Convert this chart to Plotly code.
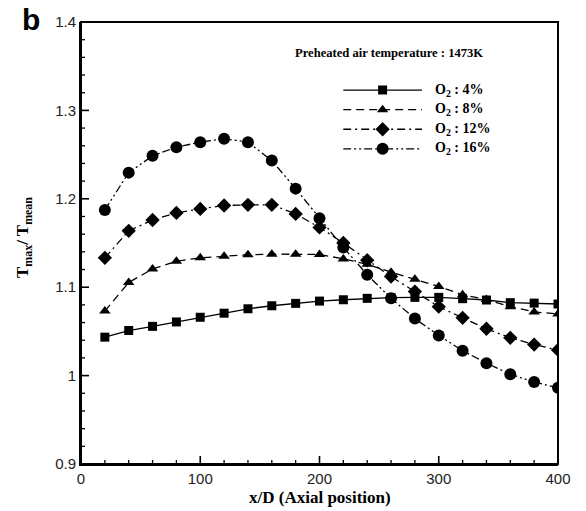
import plotly.graph_objects as go

x_pos = [20, 40, 60, 80, 100, 120, 140, 160, 180, 200, 220, 240, 260, 280, 300, 320, 340, 360, 380, 400]
o2_4 = [1.0435, 1.051, 1.0557, 1.0607, 1.066, 1.0706, 1.0756, 1.079, 1.0817, 1.0843,
        1.0858, 1.0874, 1.0882, 1.0885, 1.0885, 1.087, 1.0855, 1.0825, 1.082, 1.081]
o2_8 = [1.073, 1.1053, 1.1206, 1.1294, 1.1332, 1.1351, 1.1367, 1.1374, 1.1374, 1.137,
        1.132, 1.126, 1.117, 1.109, 1.1008, 1.0915, 1.086, 1.078, 1.072, 1.0698]
o2_12 = [1.1332, 1.1638, 1.176, 1.184, 1.1886, 1.1924, 1.1932, 1.1932, 1.1829, 1.1676,
         1.150, 1.1305, 1.112, 1.095, 1.078, 1.0653, 1.053, 1.0427, 1.0351, 1.029]
o2_16 = [1.1874, 1.2296, 1.2486, 1.2584, 1.2641, 1.268, 1.2641, 1.2432, 1.2115, 1.1779,
         1.145, 1.1141, 1.0874, 1.0645, 1.0454, 1.0282, 1.0141, 1.0015, 0.9927, 0.9862]

x_major = [0, 100, 200, 300, 400]
x_major_labels = ["0", "100", "200", "300", "400"]
y_major = [0.9, 1.0, 1.1, 1.2, 1.3, 1.4]
y_major_labels = ["0.9", "1", "1.1", "1.2", "1.3", "1.4"]
x_minor = [20 * i for i in range(21)]
y_minor = [round(0.9 + 0.02 * i, 2) for i in range(26)]

series_names = ["O<sub>2</sub> : 4%", "O<sub>2</sub> : 8%", "O<sub>2</sub> : 12%", "O<sub>2</sub> : 16%"]
series_vals = [o2_4, o2_8, o2_12, o2_16]
symbols = ["square", "triangle-up", "diamond", "circle"]
msizes = [9, 10, 11, 12]
dashes = ["solid", "8px,5px", "8px,4px,2px,4px", "8px,3px,2px,3px,2px,3px"]

fig = go.Figure()
for name, vals, sym, ms, dash in zip(series_names, series_vals, symbols, msizes, dashes):
    fig.add_trace(go.Scatter(
        x=x_pos, y=vals, mode="lines+markers", name=name, showlegend=False,
        line=dict(color="black", width=1.3, dash=dash),
        marker=dict(symbol=sym, size=ms, color="black"),
    ))

# custom legend drawn in a small separate (invisible) subplot
leg_rank = [3, 2, 1, 0]
for name, sym, ms, dash, r in zip(series_names, symbols, msizes, dashes, leg_rank):
    fig.add_trace(go.Scatter(
        x=[0, 1], y=[r, r], xaxis="x2", yaxis="y2",
        mode="lines", showlegend=False, hoverinfo="skip",
        line=dict(color="black", width=1.3, dash=dash),
    ))
    fig.add_trace(go.Scatter(
        x=[0.5], y=[r], xaxis="x2", yaxis="y2",
        mode="markers", showlegend=False, hoverinfo="skip",
        marker=dict(symbol=sym, size=ms, color="black"),
    ))
    fig.add_annotation(x=1, y=r, xref="x2", yref="y2", xshift=11,
                       text="<b>" + name + "</b>", showarrow=False,
                       xanchor="left", yanchor="middle",
                       font=dict(family="Liberation Serif", size=14, color="black"))

tickfont = dict(family="Liberation Sans", size=15, color="#222")

fig.update_layout(
    width=586, height=511,
    margin=dict(l=81, r=28, t=22, b=47),
    plot_bgcolor="white", paper_bgcolor="white",
    xaxis=dict(range=[0, 400], tickmode="array", tickvals=x_major, ticktext=x_major_labels,
               ticks="", showline=True, linecolor="black", linewidth=2,
               showgrid=False, zeroline=False, tickfont=tickfont),
    yaxis=dict(range=[0.9, 1.4], tickmode="array", tickvals=y_major, ticktext=y_major_labels,
               ticks="", showline=True, linecolor="black", linewidth=2,
               showgrid=False, zeroline=False, tickfont=tickfont),
    xaxis2=dict(domain=[0.5496, 0.715], range=[0, 1], visible=False, anchor="y2"),
    yaxis2=dict(domain=[0.691, 0.868], range=[-0.5, 3.5], visible=False, anchor="x2"),
)

# inside tick marks (major long, minor short), placed at axis values
for v in x_minor:
    major = v in x_major
    fig.add_shape(type="line", xref="x", x0=v, x1=v,
                  yref="paper", ysizemode="pixel", yanchor=0, y0=0, y1=8 if major else 4,
                  line=dict(color="black", width=1.6 if major else 1.3))
y_major_r = [round(m, 2) for m in y_major]
for v in y_minor:
    major = v in y_major_r
    fig.add_shape(type="line", yref="y", y0=v, y1=v,
                  xref="paper", xsizemode="pixel", xanchor=0, x0=0, x1=8 if major else 4,
                  line=dict(color="black", width=1.6 if major else 1.3))

# frame (top and right borders)
fig.add_shape(type="rect", xref="paper", yref="paper", x0=0, y0=0, x1=1, y1=1,
              line=dict(color="black", width=2), layer="below")

fig.add_annotation(x=0.5, y=0, xref="paper", yref="paper", yshift=-33,
                   text="<b>x/D (Axial position)</b>", showarrow=False,
                   xanchor="center", yanchor="middle",
                   font=dict(family="Liberation Serif", size=17, color="black"))
fig.add_annotation(x=0, y=0.5, xref="paper", yref="paper", xshift=-57, yshift=5,
                   text="<b>T<sub>max</sub>/ T<sub>mean</sub></b>", showarrow=False,
                   textangle=-90, xanchor="center", yanchor="middle",
                   font=dict(family="Liberation Serif", size=17, color="black"))
fig.add_annotation(x=0, y=1, xref="paper", yref="paper", xshift=-50, yshift=3,
                   text="<b>b</b>", showarrow=False, xanchor="center", yanchor="middle",
                   font=dict(family="Liberation Sans", size=30, color="black"))
fig.add_annotation(x=0.646, y=0.93, xref="paper", yref="paper",
                   text="<b>Preheated air temperature : 1473K</b>", showarrow=False,
                   xanchor="center", yanchor="middle",
                   font=dict(family="Liberation Serif", size=12.6, color="black"))

fig.write_html("out.html")
